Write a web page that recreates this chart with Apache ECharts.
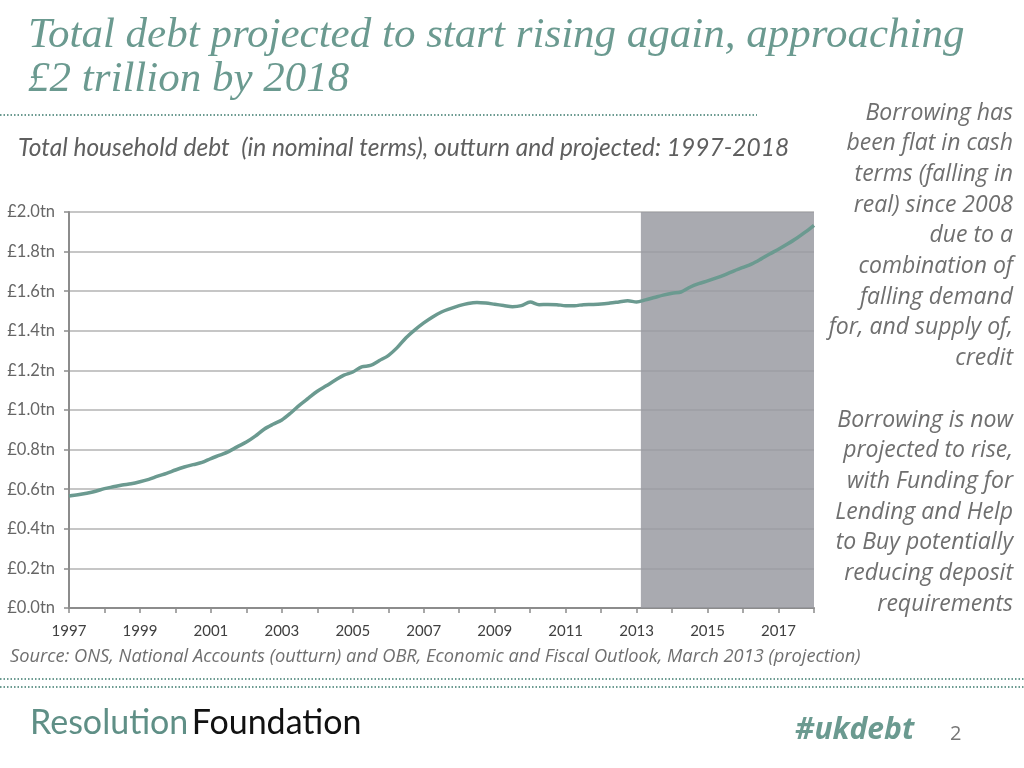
<!DOCTYPE html>
<html><head><meta charset="utf-8">
<script src="https://cdn.jsdelivr.net/npm/echarts@6/dist/echarts.min.js"></script>
<style>html,body{margin:0;padding:0;background:#fff}#c{width:1024px;height:768px}</style>
</head><body><div id="c"></div>
<script>
// Quarterly series, first quarter = 1997 Q1, last = 2018 Q1
const startYear = 1997;
const quartersPerYear = 4;
const debt = [
  0.566,0.572,0.580,0.590, 0.603,0.612,0.621,0.628, 0.638,0.650,0.666,0.680,
  0.697,0.712,0.724,0.735, 0.755,0.772,0.790,0.815, 0.838,0.868,0.903,0.928,
  0.950,0.985,1.025,1.060, 1.095,1.122,1.150,1.176, 1.192,1.218,1.225,1.250,
  1.275,1.315,1.365,1.405, 1.440,1.470,1.495,1.512, 1.527,1.538,1.543,1.540,
  1.534,1.528,1.522,1.527, 1.545,1.532,1.533,1.532, 1.527,1.527,1.532,1.533,
  1.535,1.540,1.546,1.552, 1.545,1.556,1.568,1.580, 1.590,1.596,1.620,1.638,
  1.652,1.667,1.684,1.703, 1.720,1.738,1.762,1.788, 1.812,1.838,1.866,1.898,
  1.933
];
const projectionStart = 2013.12;
const axisEnd = 2018;
const yTicks = [0,0.2,0.4,0.6,0.8,1.0,1.2,1.4,1.6,1.8,2.0];
const titleLines = ['Total debt projected to start rising again, approaching','£2 trillion by 2018'];
const subtitle = 'Total household debt  (in nominal terms), outturn and projected: 1997-2018';
const sideNote = ['Borrowing has','been flat in cash','terms (falling in','real) since 2008','due to a','combination of','falling demand','for, and supply of,','credit','','Borrowing is now','projected to rise,','with Funding for','Lending and Help','to Buy potentially','reducing deposit','requirements'];
const sourceText = 'Source: ONS, National Accounts (outturn) and OBR, Economic and Fiscal Outlook, March 2013 (projection)';

const points = debt.map((v,i)=>[startYear + i/quartersPerYear, v]);
const teal = '#6b9a90';
const textGray = '#6f6f6f';

const chart = echarts.init(document.getElementById('c'), null, {renderer:'canvas'});
const graphics = [];
titleLines.forEach((t,i)=>graphics.push({type:'text',x:28,y:36+i*44,style:{text:t,font:'italic 43px "Liberation Serif"',fill:teal,verticalAlign:'middle'}}));
graphics.push({type:'line',shape:{x1:0,y1:115,x2:757,y2:115},style:{stroke:teal,lineWidth:2,lineDash:[1.5,2]}});
graphics.push({type:'text',x:18,y:148,style:{text:subtitle,font:'italic 24.5px Lato',fill:'#5f5f5f',verticalAlign:'middle'}});
sideNote.forEach((t,i)=>{ if(t) graphics.push({type:'text',x:1013,y:113+i*30.7,style:{text:t,font:'italic 23px "Open Sans"',fill:textGray,align:'right',verticalAlign:'middle'}}); });
graphics.push({type:'text',x:10,y:657,style:{text:sourceText,font:'italic 18.3px "Open Sans"',fill:textGray,verticalAlign:'middle'}});
graphics.push({type:'line',shape:{x1:0,y1:679,x2:1024,y2:679},style:{stroke:teal,lineWidth:2,lineDash:[1.5,2]}});
graphics.push({type:'line',shape:{x1:0,y1:687,x2:1024,y2:687},style:{stroke:teal,lineWidth:2,lineDash:[1.5,2]}});
graphics.push({type:'text',x:30,y:723,style:{rich:{a:{font:'34px Lato',fill:'#5f8f86'},b:{font:'34px Lato',fill:'#111'}},text:'{a|Resolution} {b|Foundation}',verticalAlign:'middle'}});
graphics.push({type:'text',x:795,y:730,style:{text:'#ukdebt',font:'italic bold 30px "Open Sans"',fill:teal,verticalAlign:'middle'}});
graphics.push({type:'text',x:950,y:734,style:{text:'2',font:'20px "Open Sans"',fill:'#777',verticalAlign:'middle'}});

chart.setOption({
  animation:false,
  backgroundColor:'#fff',
  grid:{left:69,right:210,top:212,bottom:160,containLabel:false},
  xAxis:{type:'value',min:startYear,max:axisEnd,interval:1,
    axisLine:{show:true,lineStyle:{color:'#8c8c8c',width:2}},
    axisTick:{show:true,length:5,lineStyle:{color:'#8c8c8c',width:1.5}},
    splitLine:{show:false},
    axisLabel:{color:'#404040',fontSize:15,fontFamily:'Lato',margin:16,
      formatter:v=> (v%2===1 ? String(v) : '')}},
  yAxis:{type:'value',min:yTicks[0],max:yTicks[yTicks.length-1],interval:0.2,
    axisLine:{show:true,lineStyle:{color:'#8c8c8c',width:2}},
    axisTick:{show:true,length:5,lineStyle:{color:'#8c8c8c',width:1.5}},
    splitLine:{show:true,lineStyle:{color:'#b3b3b3',width:1.5}},
    axisLabel:{color:'#666',fontSize:16.5,fontFamily:'Lato',margin:14,
      formatter:v=>'£'+v.toFixed(1)+'tn'}},
  series:[{type:'line',data:points,showSymbol:false,symbol:'none',smooth:0.3,
    lineStyle:{color:teal,width:3.5},z:5,
    markArea:{silent:true,itemStyle:{color:'rgba(152,153,160,0.835)'},
      data:[[{xAxis:projectionStart},{xAxis:axisEnd}]]}}],
  graphic:graphics
});
</script></body></html>
